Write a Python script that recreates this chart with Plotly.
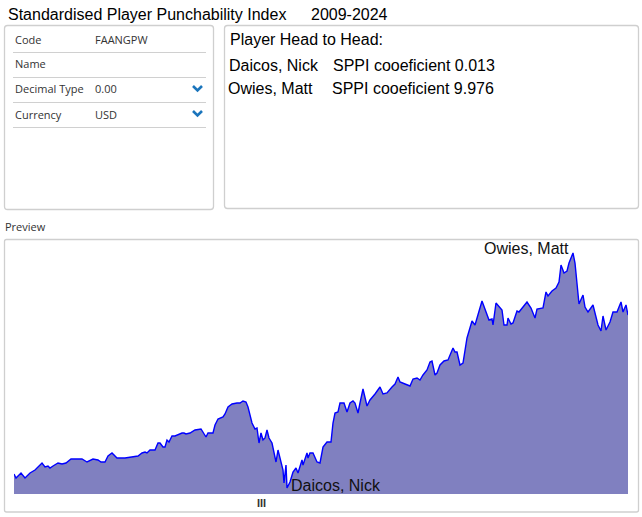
import plotly.graph_objects as go

# ---- data ----
period = [0, 2, 7, 11, 16, 21, 28, 31, 34, 36, 39, 44, 48, 52, 57, 63, 68, 73, 79, 84,
          87, 91, 94, 98, 103, 111, 119, 124, 128, 131, 133, 136, 141, 144, 146, 149, 151, 153, 155, 158,
          161, 163, 168, 170, 172, 176, 181, 187, 189, 192, 194, 199, 201, 204, 209, 211, 214, 218, 223, 226,
          229, 232, 234, 238, 241, 243, 245, 247, 249, 251, 253, 255, 258, 260, 262, 264, 266, 269, 270, 272,
          273, 276, 279, 282, 284, 288, 289, 293, 294, 296, 299, 303, 306, 309, 313, 317, 319, 321, 324, 326,
          330, 333, 336, 339, 341, 344, 346, 349, 353, 356, 361, 366, 369, 373, 378, 381, 384, 386, 391, 396,
          399, 403, 406, 409, 413, 416, 418, 421, 423, 426, 430, 434, 439, 441, 443, 446, 449, 453, 458, 461,
          468, 472, 475, 478, 479, 482, 486, 488, 490, 493, 494, 497, 499, 503, 505, 509, 513, 517, 521, 523,
          529, 532, 534, 538, 542, 545, 547, 550, 553, 555, 559, 561, 565, 569, 571, 574, 579, 581, 584, 587,
          589, 592, 596, 599, 603, 607, 609, 612, 614]
sppi = [20, 16, 21, 16, 21, 24, 31, 27, 28, 26, 28, 31, 30, 31, 35, 35, 35, 32, 35, 34,
        32, 32, 38, 41, 36, 36, 37, 38, 41, 42, 41, 44, 44, 51, 51, 47, 47, 54, 52, 58,
        58, 59, 61, 61, 60, 61, 64, 65, 62, 57, 61, 61, 69, 75, 77, 80, 87, 90, 91, 91,
        93, 92, 87, 71, 65, 66, 51, 61, 54, 56, 64, 56, 51, 42, 32, 44, 37, 24, 11, 29,
        6, 12, 22, 26, 21, 34, 29, 41, 36, 41, 41, 32, 31, 47, 52, 52, 71, 81, 82, 91,
        91, 82, 91, 93, 91, 81, 91, 105, 88, 94, 100, 107, 100, 101, 107, 110, 117, 112, 110, 108,
        115, 116, 114, 119, 124, 132, 133, 119, 121, 129, 133, 134, 146, 142, 142, 129, 131, 156, 173, 169,
        193, 182, 174, 175, 169, 191, 186, 184, 169, 169, 176, 170, 171, 183, 182, 187, 192, 186, 176, 185,
        186, 202, 198, 203, 206, 212, 229, 221, 223, 231, 241, 231, 190, 199, 187, 182, 189, 181, 169, 163,
        178, 164, 172, 182, 182, 192, 182, 189, 179]

title_text = "Standardised Player Punchability Index"
year_span = "2009-2024"
field_labels = ["Code", "Name", "Decimal Type", "Currency"]
field_values = ["FAANGPW", "", "0.00", "USD"]
field_dropdown = [False, False, True, True]
h2h_title = "Player Head to Head:"
players = ["Daicos, Nick", "Owies, Matt"]
coefficients = ["0.013", "9.976"]

W, H = 642, 517
fig = go.Figure()

fig.add_trace(go.Scatter(
    x=period, y=sppi, mode="lines", fill="tozeroy",
    line=dict(color="rgb(0,0,255)", width=1.4, shape="linear"),
    fillcolor="rgb(128,128,192)", hoverinfo="skip", showlegend=False))

shapes = []
annots = []

def px(x):
    return x / W

def py(y):
    return 1 - y / H

def rrect(x0, y0, x1, y1, r=3, color="#cfcfcf"):
    X0, X1, Y0, Y1 = px(x0), px(x1), py(y0), py(y1)
    rx, ry = r / W, r / H
    p = (f"M{X0+rx},{Y0} L{X1-rx},{Y0} Q{X1},{Y0} {X1},{Y0-ry} L{X1},{Y1+ry} Q{X1},{Y1} {X1-rx},{Y1} "
         f"L{X0+rx},{Y1} Q{X0},{Y1} {X0},{Y1+ry} L{X0},{Y0-ry} Q{X0},{Y0} {X0+rx},{Y0} Z")
    shapes.append(dict(type="path", path=p, xref="paper", yref="paper",
                       line=dict(color=color, width=1.3), fillcolor="rgba(0,0,0,0)", layer="below"))

def txt(x, y, s, size=16, family="Liberation Sans, Arial", color="#000", xanchor="left", bold=False):
    annots.append(dict(x=px(x), y=py(y), xref="paper", yref="paper", text=(f"<b>{s}</b>" if bold else s),
                       showarrow=False, xanchor=xanchor, yanchor="middle",
                       font=dict(size=size, family=family, color=color), borderpad=0))

# title
txt(7, 15, title_text)
txt(310, 15, year_span)

# left panel
rrect(4.5, 25.5, 213.5, 209.5)
ui_font = "Open Sans, Noto Sans"
row_y = [39, 64, 89, 114]
for i, (lab, val, dd) in enumerate(zip(field_labels, field_values, field_dropdown)):
    y = row_y[i]
    txt(14, y, lab, size=11, family=ui_font, color="#333")
    if val:
        txt(94, y, val, size=11, family=ui_font, color="#333")
    shapes.append(dict(type="line", x0=px(13), x1=px(206), y0=py(y + 13.5), y1=py(y + 13.5),
                       xref="paper", yref="paper", line=dict(color="#d0d0d0", width=1)))
    if dd:
        shapes.append(dict(type="path",
                           path=f"M{px(193)},{py(y-3)} L{px(197.5)},{py(y+1.5)} L{px(202)},{py(y-3)}",
                           xref="paper", yref="paper", line=dict(color="#1b75bc", width=2.6)))

# right panel
rrect(224.5, 25.5, 638.5, 208.5)
txt(229, 39, h2h_title)
txt(228, 66, players[0])
txt(332, 66, f"SPPI cooeficient {coefficients[0]}")
txt(227, 89, players[1])
txt(331, 89, f"SPPI cooeficient {coefficients[1]}")

# preview
txt(4, 226, "Preview", size=11, family=ui_font, color="#333")
rrect(4.5, 239.5, 638.5, 512, r=2)
txt(261, 503, "III", size=11, family="Liberation Sans, Arial", color="#333", xanchor="center", bold=True)

# chart labels at extremes
i_min = sppi.index(min(sppi))
i_max = sppi.index(max(sppi))
annots.append(dict(x=period[i_min], y=sppi[i_min], xref="x", yref="y", text=players[0],
                   showarrow=False, xanchor="left", yanchor="middle", xshift=2, yshift=3,
                   font=dict(size=16, family="Liberation Sans, Arial", color="#111")))
annots.append(dict(x=period[i_max], y=sppi[i_max], xref="x", yref="y", text=players[1],
                   showarrow=False, xanchor="right", yanchor="middle", xshift=-2, yshift=5,
                   font=dict(size=16, family="Liberation Sans, Arial", color="#111")))

fig.update_layout(
    width=W, height=H, autosize=False,
    margin=dict(l=0, r=0, t=0, b=0, pad=0),
    paper_bgcolor="white", plot_bgcolor="rgba(0,0,0,0)",
    xaxis=dict(domain=[14 / W, 628 / W], range=[0, 614], visible=False, fixedrange=True),
    yaxis=dict(domain=[(H - 494) / H, (H - 240) / H], range=[0, 254], visible=False, fixedrange=True),
    shapes=shapes, annotations=annots, showlegend=False,
)

fig.write_html("out.html", config={"displayModeBar": False})
